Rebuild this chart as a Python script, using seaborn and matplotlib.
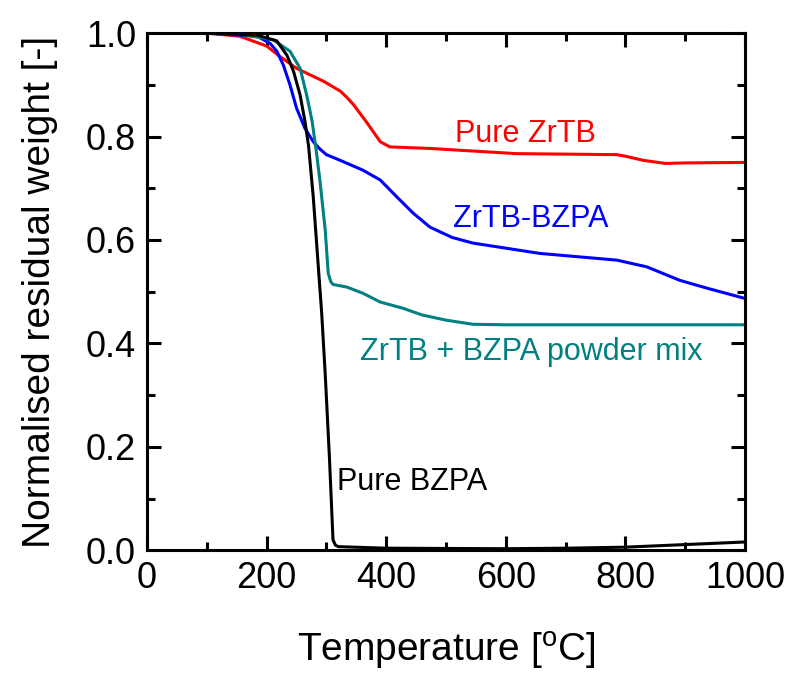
import numpy as np
import pandas as pd
import matplotlib
matplotlib.use("Agg")
import matplotlib.pyplot as plt
from matplotlib.ticker import MultipleLocator
import seaborn as sns

# ---- data ----
t_zrtb = [100, 155, 200, 222, 250, 275, 295, 323, 334, 345, 356, 367, 378, 390, 406, 473, 617, 786, 800, 830, 867, 900, 1000]
w_zrtb = [1.0, 0.994, 0.975, 0.955, 0.932, 0.918, 0.907, 0.888, 0.876, 0.862, 0.845, 0.828, 0.81, 0.79, 0.78, 0.777, 0.767, 0.765, 0.762, 0.754, 0.748, 0.749, 0.75]

t_zrtb_bzpa = [100, 184, 206, 217, 228, 239, 250, 264, 278, 289, 300, 323, 361, 390, 418, 445, 473, 510, 545, 657, 786, 836, 891, 936, 1000]
w_zrtb_bzpa = [1.0, 0.994, 0.98, 0.965, 0.938, 0.9, 0.855, 0.816, 0.79, 0.776, 0.765, 0.754, 0.735, 0.716, 0.683, 0.652, 0.625, 0.605, 0.594, 0.574, 0.561, 0.548, 0.522, 0.507, 0.487]

t_mix = [100, 160, 211, 239, 256, 267, 276, 283, 289, 298, 303, 307, 311, 334, 361, 390, 428, 460, 500, 545, 600, 800, 1000]
w_mix = [1.0, 0.997, 0.987, 0.965, 0.932, 0.88, 0.83, 0.772, 0.716, 0.619, 0.536, 0.52, 0.514, 0.509, 0.497, 0.48, 0.468, 0.455, 0.445, 0.437, 0.436, 0.436, 0.436]

t_bzpa = [100, 184, 217, 234, 245, 256, 264, 270, 278, 286, 292, 298, 305, 311, 315, 320, 400, 600, 700, 800, 900, 1000]
w_bzpa = [1.0, 0.996, 0.985, 0.957, 0.926, 0.88, 0.83, 0.783, 0.683, 0.555, 0.46, 0.34, 0.18, 0.02, 0.01, 0.007, 0.004, 0.003, 0.004, 0.006, 0.011, 0.016]

series_names = ["Pure ZrTB", "ZrTB-BZPA", "ZrTB + BZPA powder mix", "Pure BZPA"]
series_colors = ["#ff0000", "#0000ff", "#008080", "#000000"]
label_x = [632, 642, 643, 443]
label_y = [0.789, 0.625, 0.367, 0.116]

x_ticks = [0, 200, 400, 600, 800, 1000]
y_ticks = [0.0, 0.2, 0.4, 0.6, 0.8, 1.0]

# ---- build long table ----
frames = []
for name, t, w in zip(series_names,
                      [t_zrtb, t_zrtb_bzpa, t_mix, t_bzpa],
                      [w_zrtb, w_zrtb_bzpa, w_mix, w_bzpa]):
    frames.append(pd.DataFrame({"T": t, "W": w, "sample": name}))
df = pd.concat(frames, ignore_index=True)

sns.set_theme(style="ticks")
plt.rcParams["font.family"] = ["Liberation Sans", "DejaVu Sans"]
plt.rcParams["mathtext.fontset"] = "custom"
plt.rcParams["mathtext.rm"] = "Liberation Sans"
plt.rcParams["mathtext.default"] = "regular"
for k in ["text.color", "axes.labelcolor", "xtick.color", "ytick.color", "axes.edgecolor"]:
    plt.rcParams[k] = "black"

fig = plt.figure(figsize=(7.95, 6.76), dpi=100)
ax = fig.add_axes([0.185, 0.186, 0.752, 0.765])

sns.lineplot(data=df, x="T", y="W", hue="sample", hue_order=series_names,
             palette=dict(zip(series_names, series_colors)), sort=False,
             linewidth=2.2, legend=False, ax=ax)

for name, c, lx, ly in zip(series_names, series_colors, label_x, label_y):
    ax.text(lx, ly, name, color=c, fontsize=22, ha="center", va="baseline")

ax.set_xlim(0, 1000)
ax.set_ylim(0, 1.0)
ax.set_xticks(x_ticks)
ax.set_yticks(y_ticks)
ax.set_xticklabels([str(v) for v in x_ticks])
ax.set_yticklabels([f"{v:.1f}" for v in y_ticks])
ax.xaxis.set_minor_locator(MultipleLocator(100))
ax.yaxis.set_minor_locator(MultipleLocator(0.1))
ax.tick_params(which="both", direction="in", top=True, right=True, width=2.2, color="black")
ax.tick_params(which="major", length=10, labelsize=26, pad=8)
ax.tick_params(which="minor", length=5.5)
for s in ax.spines.values():
    s.set_linewidth(2.2)
    s.set_color("black")
    s.set_visible(True)

ax.set_xlabel("Temperature [$^{o}$C]", fontsize=28, labelpad=24)
ax.set_ylabel("Normalised residual weight [-]", fontsize=28, labelpad=20)

fig.savefig("out.png", dpi=100)
